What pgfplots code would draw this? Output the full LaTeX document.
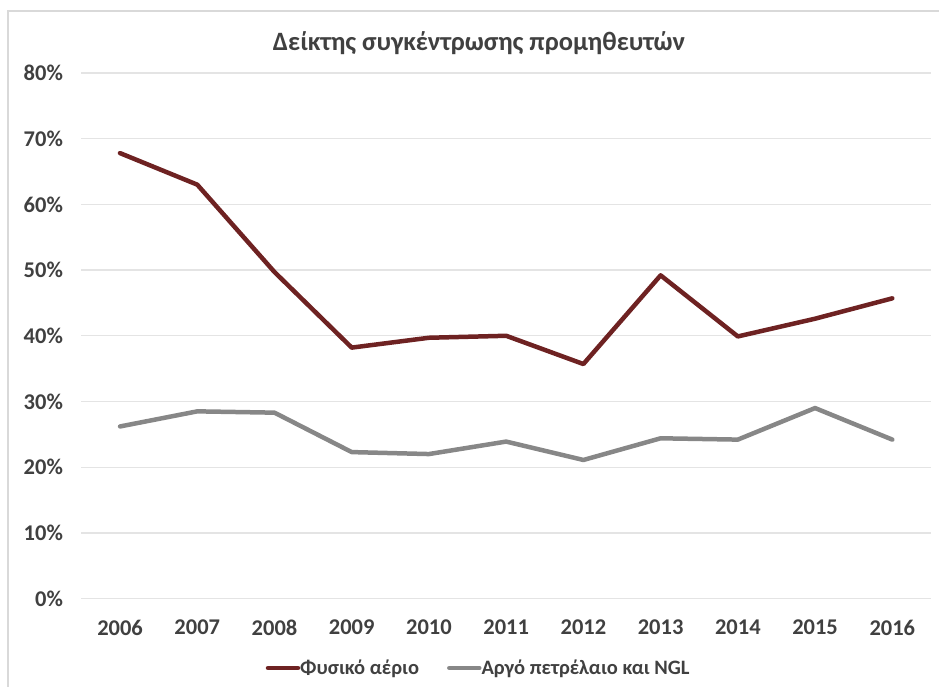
\documentclass[border=0pt]{standalone}
\usepackage{pgfplots}
\pgfplotsset{compat=1.18}
\usepackage{fontspec}
\setmainfont{Carlito}
\definecolor{redl}{HTML}{6E2222}
\definecolor{grayl}{HTML}{878787}
\definecolor{gridc}{HTML}{E4E4E4}
\definecolor{txt}{HTML}{404040}
\definecolor{bord}{HTML}{D9D9D9}
\begin{document}
\begin{tikzpicture}
\begin{axis}[name=ax,
  scale only axis, width=850pt, height=526pt,
  xmin=2005.5, xmax=2016.5, ymin=0, ymax=80,
  xtick={2006,2007,2008,2009,2010,2011,2012,2013,2014,2015,2016},
  xticklabels={2006,2007,2008,2009,2010,2011,2012,2013,2014,2015,2016},
  ytick={0,10,20,30,40,50,60,70,80},
  yticklabels={0\%,10\%,20\%,30\%,40\%,50\%,60\%,70\%,80\%},
  axis line style={draw=none},
  major tick length=0pt,
  ymajorgrids, grid style={gridc, line width=1.2pt},
  tick label style={font=\fontsize{22.5}{27}\selectfont\bfseries, text=txt},
  yticklabel style={anchor=east, xshift=-15pt},
  xticklabel style={anchor=north, yshift=-18pt},
  title={Δείκτης συγκέντρωσης προμηθευτών},
  title style={font=\fontsize{26.5}{31}\selectfont\bfseries, text=txt, at={(0.468,1)}, anchor=center, yshift=24pt},
  legend style={at={(0.4676,-0.132)}, anchor=center, draw=none, fill=none,
    font=\fontsize{20.5}{24}\selectfont\bfseries, text=txt,
    /tikz/every even column/.append style={column sep=26pt},
    /tikz/every odd column/.append style={column sep=-2pt},
    inner sep=0pt},
  legend columns=2,
  legend image code/.code={\draw[#1, line cap=round] (0pt,0pt) -- (30pt,0pt);},
]
\addplot[redl, line width=4.5pt, line join=round, line cap=round] coordinates {
  (2006,67.8) (2007,63.0) (2008,49.7) (2009,38.2) (2010,39.7) (2011,40.0)
  (2012,35.7) (2013,49.2) (2014,39.9) (2015,42.6) (2016,45.7)};
\addlegendentry{Φυσικό αέριο}
\addplot[grayl, line width=4.5pt, line join=round, line cap=round] coordinates {
  (2006,26.2) (2007,28.5) (2008,28.3) (2009,22.3) (2010,22.0) (2011,23.9)
  (2012,21.1) (2013,24.4) (2014,24.2) (2015,29.0) (2016,24.2)};
\addlegendentry{Αργό πετρέλαιο και NGL}
\end{axis}
\draw[bord, line width=1.2pt] ([shift={(-73.5pt,-88pt)}]ax.south west) -- ([shift={(-73.5pt,588pt)}]ax.south west) -- ([shift={(858.5pt,588pt)}]ax.south west);
\path[use as bounding box] ([shift={(-81.5pt,-88pt)}]ax.south west) rectangle ([shift={(858.5pt,599pt)}]ax.south west);
\end{tikzpicture}
\end{document}
